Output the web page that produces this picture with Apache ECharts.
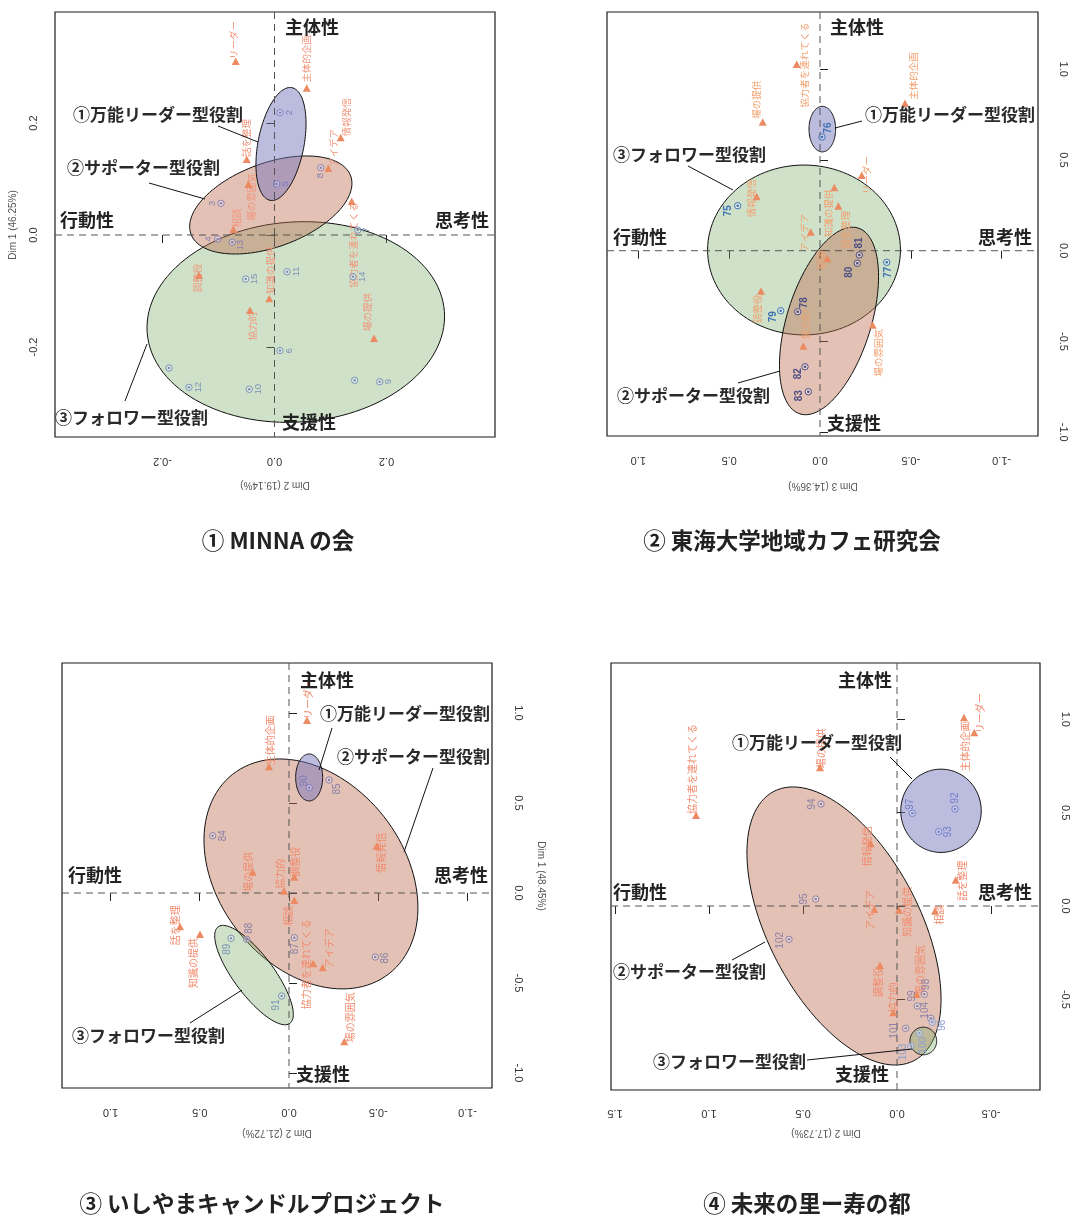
<!DOCTYPE html>
<html><head><meta charset="utf-8">
<script src="https://cdn.jsdelivr.net/npm/echarts@6/dist/echarts.min.js"></script>
<style>html,body{margin:0;padding:0;background:#fff}#c{width:1071px;height:1216px}</style>
</head><body><div id="c"></div>
<script>
// ---------------- DATA ----------------
// members: [label, x, y, cluster(1 leader / 2 supporter / 3 follower)]
const minnaMembers = [
  ['2', 0.0098, 0.2184, 1], ['5', 0.0039, 0.0911, 1],
  ['3', -0.0955, 0.0566, 2], ['4', -0.1014, -0.0071, 2], ['8', 0.0825, 0.1202, 2], ['13', -0.0754, -0.0130, 2],
  ['6', 0.0098, -0.2063, 3], ['7', 0.1486, 0.0089, 3], ['9', 0.1879, -0.2620, 3], ['10', -0.0450, -0.2755, 3],
  ['11', 0.0223, -0.0655, 3], ['12', -0.1527, -0.2720, 3], ['14', 0.1402, -0.0745, 3], ['15', -0.0514, -0.0786, 3],
  ['', -0.1884, -0.2375, 3], ['', 0.1432, -0.2595, 3]
];
const minnaAttrs = [
  ['リーダー', -0.0693, 0.3089], ['主体的企画', 0.0575, 0.2613], ['話を整理', -0.0496, 0.1339],
  ['場の雰囲気', -0.0468, 0.0893], ['相談', -0.0736, 0.0089], ['情報発信', 0.1182, 0.1727],
  ['アイデア', 0.0961, 0.1179], ['協力者を連れてくる', 0.1379, 0.0589], ['知識の提供', -0.0093, -0.1148],
  ['調整役', -0.1348, -0.0732], ['協力的', -0.0438, -0.1357], ['場の提供', 0.1777, -0.1857]
];
// ellipses: [role, cx, cy, a1x, a1y, a2x, a2y]
const minnaEllipses = [
  [2, 0.038, -0.1554, 0.2654, 0.0186, 0.0125, -0.1782],
  [1, -0.0066, 0.0536, 0.1426, 0.0519, 0.0257, -0.0705],
  [0, 0.0116, 0.1625, 0.0194, 0.1006, 0.0403, -0.0078]
];

const tokaiMembers = [
  ['75', 0.4532, 0.2479, 3], ['76', -0.0110, 0.6264, 1], ['77', -0.3673, -0.0639, 3],
  ['78', 0.1228, -0.3361, 2], ['79', 0.2164, -0.3306, 3], ['80', -0.2054, -0.0694, 2],
  ['81', -0.2164, -0.0237, 2], ['82', 0.0826, -0.6391, 2], ['83', 0.0644, -0.7769, 2]
];
const tokaiAttrs = [
  ['情報発信', 0.3486, 0.2942], ['場の提供', 0.3155, 0.7052], ['協力者を連れてくる', 0.1283, 1.0231],
  ['主体的企画', -0.4681, 0.8083], ['リーダー', -0.2296, 0.4116], ['知識の提供', -0.0787, 0.3438],
  ['話を整理', -0.1008, 0.2424], ['アイデア', 0.0512, 0.0992], ['相談', -0.0402, -0.0474],
  ['調整役', 0.3249, -0.2259], ['協力的', 0.0920, -0.5289], ['場の雰囲気', -0.2902, -0.4132]
];
const tokaiEllipses = [
  [2, 0.088, 0.004, 0.531, 0, 0, 0.468],
  [1, -0.0496, -0.387, -0.160, 0.512, -0.221, -0.069],
  [0, -0.0127, 0.670, 0, 0.1256, 0.0733, 0]
];

const ishiyamaMembers = [
  ['84', 0.4275, 0.3183, 2], ['85', -0.2241, 0.6278, 2], ['86', -0.4835, -0.3556, 2],
  ['87', -0.0297, -0.2483, 2], ['88', 0.2370, -0.2572, 2], ['89', 0.3249, -0.2517, 3],
  ['90', -0.1137, 0.5850, 1], ['91', 0.0409, -0.5722, 3]
];
const ishiyamaAttrs = [
  ['リーダー', -0.1008, 0.9556], ['主体的企画', 0.1120, 0.6983], ['場の提供', 0.2034, 0.1128],
  ['協力的', 0.0280, 0.0072], ['調整役', -0.0297, 0.0850], ['情報発信', -0.4913, 0.2572],
  ['相談', -0.0297, -0.0444], ['話を整理', 0.6106, -0.1906], ['知識の提供', 0.4986, -0.2333],
  ['協力者を連れてくる', -0.1361, -0.3961], ['アイデア', -0.1888, -0.4183], ['場の雰囲気', -0.3098, -0.8294]
];
const ishiyamaEllipses = [
  [1, -0.123, 0.106, -0.438, -0.554, 0.409, -0.318],
  [2, 0.196, -0.456, -0.201, -0.268, 0.090, -0.066],
  [0, -0.113, 0.642, 0, 0.1306, 0.0756, 0]
];

const kotobukiMembers = [
  ['92', -0.3085, 0.5195, 1], ['93', -0.2218, 0.3980, 1], ['97', -0.0814, 0.4965, 1],
  ['94', 0.4043, 0.5463, 2], ['95', 0.4324, 0.0375, 2], ['102', 0.5745, -0.1784, 2],
  ['98', -0.1452, -0.4730, 2], ['99', -0.1080, -0.5356, 2], ['104', -0.1793, -0.6015, 2],
  ['101', -0.0463, -0.6551, 2], ['96', -0.1878, -0.6229, 3], ['100', -0.1186, -0.6818, 3],
  ['103', -0.0729, -0.7499, 3]
];
const kotobukiAttrs = [
  ['リーダー', -0.4112, 0.9250], ['主体的企画', -0.3564, 1.0054], ['場の提供', 0.4096, 0.7375],
  ['協力者を連れてくる', 1.0691, 0.4821], ['情報発信', 0.1399, 0.3305], ['話を整理', -0.3122, 0.1355],
  ['アイデア', 0.1207, -0.0214], ['知識の提供', -0.0106, -0.0252], ['相談', -0.2021, -0.0305],
  ['調整役', 0.0904, -0.3214], ['協力的', 0.0197, -0.5747], ['場の雰囲気', -0.1048, -0.4767]
];
const kotobukiEllipses = [
  [1, 0.282, -0.107, -0.373, -0.721, 0.357, -0.187],
  [0, -0.234, 0.510, 0.214, 0, 0, 0.223],
  [2, -0.140, -0.723, 0.071, 0, 0, 0.074]
];

const ticks1X = [-0.2, 0, 0.2], ticks1Y = [-0.2, 0, 0.2];
const ticks2X = [-1, -0.5, 0, 0.5, 1], ticks2Y = [-1, -0.5, 0, 0.5, 1];
const ticks3X = [-1, -0.5, 0, 0.5, 1], ticks3Y = [-1, -0.5, 0, 0.5, 1];
const ticks4X = [-0.5, 0, 0.5, 1, 1.5], ticks4Y = [-0.5, 0, 0.5, 1];

const panelTitles = ['① MINNA の会', '② 東海大学地域カフェ研究会', '③ いしやまキャンドルプロジェクト', '④ 未来の里ー寿の都'];
const roleNames = ['①万能リーダー型役割', '②サポーター型役割', '③フォロワー型役割'];
const poleNames = ['主体性', '支援性', '行動性', '思考性'];
const axisTitles = [['Dim 2 (19.14%)', 'Dim 1 (46.25%)'], ['Dim 3 (14.36%)', ''], ['Dim 2 (21.72%)', 'Dim 1 (48.45%)'], ['Dim 2 (17.73%)', '']];

// ---------------- LAYOUT / STYLE ----------------
const JP = '"Noto Sans CJK JP","Noto Sans",sans-serif';
const LAT = '"Liberation Sans",Arial,sans-serif';
const ELL_FILL = ['rgba(112,112,188,0.47)', 'rgba(188,108,78,0.42)', 'rgba(122,172,102,0.36)'];
const TRI_COLOR = '#ec8a62';

const ptNudge = [
  { _d: [9, 0], '3': [-9, 0], '4': [-9, 0], '8': [0, 8], '13': [8, 3] },
  { _d: [-9, 4], '75': [-9, 5], '76': [6, -9], '77': [2, 10], '78': [7, -9], '79': [-7, 6], '80': [-8, 9], '81': [0, -12], '82': [-7, 7], '83': [-9, 4] },
  { _d: [9, 0], '90': [-5, -7], '85': [8, 9], '84': [11, 0], '88': [3, -11], '89': [-4, 11], '87': [1, 11], '86': [10, 1], '91': [-5, 9] },
  { _d: [9, 0], '97': [-2, -9], '92': [0, -11], '93': [10, 0], '94': [-9, 0], '95': [-11, 0], '102': [-9, 1], '98': [2, -10], '99': [-5, -10], '104': [-5, -8], '96': [10, 3], '101': [-11, 2], '100': [4, 12], '103': [-7, 6] }
];
const atNudge = [
  { 'リーダー': [-2, -22], '主体的企画': [0, -30], '話を整理': [0, -22], '場の雰囲気': [3, 12], '相談': [3, -12], '情報発信': [6, -21], 'アイデア': [5, -21], '協力者を連れてくる': [2, 43], '知識の提供': [1, -29], '調整役': [-2, 2], '協力的': [2, 15], '場の提供': [-7, -27] },
  { '情報発信': [-5, 1], '場の提供': [-6, -23], '協力者を連れてくる': [8, 0], '主体的企画': [8, -28], 'リーダー': [5, -1], '知識の提供': [-6, 25], '話を整理': [7, 23], 'アイデア': [-6, 0], '相談': [-6, 1], '調整役': [-4, 17], '協力的': [2, -22], '場の雰囲気': [6, 27] },
  { 'リーダー': [1, -22], '主体的企画': [1, -27], '場の提供': [-4, -1], '協力的': [-4, -18], '調整役': [1, -16], '情報発信': [5, 6], '相談': [-6, 15], '話を整理': [-5, -2], '知識の提供': [-7, 28], '協力者を連れてくる': [-7, 0], 'アイデア': [7, -20], '場の雰囲気': [6, -25] },
  { 'リーダー': [6, -20], '主体的企画': [1, 28], '場の提供': [1, -20], '協力者を連れてくる': [-4, -47], '情報発信': [-4, 2], '話を整理': [7, 0], 'アイデア': [-4, 0], '知識の提供': [8, 1], '相談': [4, 3], '調整役': [-2, 16], '協力的': [0, -16], '場の雰囲気': [3, -25] }
];
const ptColors = [
  ['#7c7cc0', '#8a7fb0', '#7a92ba'],
  ['#3f72b5', '#4d4d85', '#3f72b5'],
  ['#7c78b8', '#8880a8', '#7b92b5'],
  ['#6f7fc8', '#8a80a8', '#8aa0d0']
];
const ptFont = ['9.5px ' + LAT, 'bold 10px ' + LAT, '10px ' + LAT, '10px ' + LAT];
const atColor = ['#f2957a', '#f2a06e', '#f28a6c', '#f28a6c'];
const atFont = ['9.5px ' + JP, '9.5px ' + JP, '10px ' + JP, '10px ' + JP];

// ---------------- BUILDERS ----------------
const fmt = v => (Math.abs(v) < 1e-9 ? '0.0' : v.toFixed(1));

function xAx(gi, min, max, inverse, ticks, margin) {
  return {
    type: 'value', gridIndex: gi, min, max, inverse,
    axisLine: { show: false }, splitLine: { show: false },
    axisTick: { show: true, inside: false, length: 8, lineStyle: { color: '#222' }, customValues: ticks },
    axisLabel: { show: true, customValues: ticks, rotate: 180, margin, formatter: fmt, color: '#333', fontSize: 11, fontFamily: LAT }
  };
}
function yAx(gi, min, max, position, ticks, rotate, margin) {
  return {
    type: 'value', gridIndex: gi, min, max, position,
    axisLine: { show: false }, splitLine: { show: false },
    axisTick: { show: true, inside: false, length: 8, lineStyle: { color: '#222' }, customValues: ticks },
    axisLabel: { show: true, customValues: ticks, rotate, margin, formatter: fmt, color: '#333', fontSize: 11, fontFamily: LAT }
  };
}

function ellipseSeries(gi, ells) {
  return {
    type: 'custom', xAxisIndex: gi, yAxisIndex: gi, z: 2, silent: true, clip: true,
    data: ells,
    renderItem: (params, api) => {
      const e = ells[params.dataIndex];
      const pts = [];
      for (let k = 0; k < 120; k++) {
        const t = 2 * Math.PI * k / 120;
        pts.push(api.coord([e[1] + Math.cos(t) * e[3] + Math.sin(t) * e[5], e[2] + Math.cos(t) * e[4] + Math.sin(t) * e[6]]));
      }
      return { type: 'polygon', shape: { points: pts }, style: { fill: ELL_FILL[e[0]], stroke: '#111', lineWidth: 1 } };
    }
  };
}
function crossSeries(gi) {
  return {
    type: 'custom', xAxisIndex: gi, yAxisIndex: gi, z: 3, silent: true,
    data: [[0, 0]],
    renderItem: (params, api) => {
      const c = api.coord([0, 0]); const cs = params.coordSys;
      const st = { stroke: '#555', lineWidth: 1, lineDash: [7, 5] };
      return { type: 'group', children: [
        { type: 'line', shape: { x1: c[0], y1: cs.y, x2: c[0], y2: cs.y + cs.height }, style: st },
        { type: 'line', shape: { x1: cs.x, y1: c[1], x2: cs.x + cs.width, y2: c[1] }, style: st }
      ] };
    }
  };
}
function memberSeries(gi, pts) {
  return {
    type: 'custom', xAxisIndex: gi, yAxisIndex: gi, z: 6, silent: true,
    data: pts.map(p => [p[1], p[2], p[3]]),
    renderItem: (params, api) => {
      const p = pts[params.dataIndex];
      const c = api.coord([api.value(0), api.value(1)]);
      const col = ptColors[gi][p[3] - 1];
      const n = ptNudge[gi][p[0]] || ptNudge[gi]._d;
      const ch = [
        { type: 'circle', shape: { cx: c[0], cy: c[1], r: 3.2 }, style: { fill: 'rgba(255,255,255,0.35)', stroke: col, lineWidth: 1 } },
        { type: 'circle', shape: { cx: c[0], cy: c[1], r: 1.3 }, style: { fill: col } }
      ];
      if (p[0]) ch.push({ type: 'text', x: c[0] + n[0], y: c[1] + n[1], rotation: Math.PI / 2,
        style: { text: p[0], fill: col, font: ptFont[gi], align: 'center', verticalAlign: 'middle' } });
      return { type: 'group', children: ch };
    }
  };
}
function attrSeries(gi, ats) {
  return {
    type: 'custom', xAxisIndex: gi, yAxisIndex: gi, z: 5, silent: true,
    data: ats.map(a => [a[1], a[2]]),
    renderItem: (params, api) => {
      const a = ats[params.dataIndex];
      const c = api.coord([api.value(0), api.value(1)]);
      const n = atNudge[gi][a[0]] || [0, -20];
      return { type: 'group', children: [
        { type: 'text', x: c[0] + n[0], y: c[1] + n[1], rotation: Math.PI / 2,
          style: { text: a[0], fill: atColor[gi], font: atFont[gi], align: 'center', verticalAlign: 'middle' } },
        { type: 'polygon', shape: { points: [[c[0], c[1] - 4.5], [c[0] - 4, c[1] + 3], [c[0] + 4, c[1] + 3]] }, style: { fill: TRI_COLOR } }
      ] };
    }
  };
}

// ---------------- ANNOTATION LAYOUT (pixels) ----------------
const roleLayout = [
  [[73, 115, 218, 126, 258, 142], [67, 168, 149, 183, 205, 199], [55, 418, 125, 401, 147, 344]],
  [[865, 115, 835, 128, 862, 121], [617, 396, 738, 383, 780, 371], [613, 155, 688, 166, 733, 190]],
  [[320, 714, 332, 728, 319, 770], [337, 757, 433, 768, 404, 852], [72, 1036, 190, 1023, 242, 990]],
  [[732, 743, 890, 757, 912, 779], [613, 972, 732, 960, 765, 942], [653, 1062, 807, 1060, 912, 1049]]
];
const poleLayout = [
  [[285, 27], [282, 422], [60, 220], [435, 220]],
  [[830, 27], [827, 423], [613, 237], [978, 237]],
  [[300, 680], [296, 1074], [68, 875], [434, 875]],
  [[838, 680], [835, 1074], [613, 892], [978, 892]]
];
const titleLayout = [[278, 540], [792, 540], [262, 1203], [807, 1203]];
const axisTitleLayout = [[[275, 485], [13, 225, Math.PI / 2]], [[823, 486], null], [[277, 1133], [541, 876, -Math.PI / 2]], [[826, 1133], null]];

const graphics = [];
for (let g = 0; g < 4; g++) {
  roleLayout[g].forEach((r, i) => {
    graphics.push({ type: 'line', z: 20, shape: { x1: r[2], y1: r[3], x2: r[4], y2: r[5] }, style: { stroke: '#111', lineWidth: 1 } });
    graphics.push({ type: 'text', z: 21, x: r[0], y: r[1], style: { text: roleNames[i], font: 'bold 17px ' + JP, fill: '#2a2a2a', align: 'left', verticalAlign: 'middle' } });
  });
  poleLayout[g].forEach((p, i) => {
    graphics.push({ type: 'text', z: 21, x: p[0], y: p[1], style: { text: poleNames[i], font: 'bold 18px ' + JP, fill: '#222', align: 'left', verticalAlign: 'middle' } });
  });
  graphics.push({ type: 'text', z: 21, x: titleLayout[g][0], y: titleLayout[g][1], style: { text: panelTitles[g], font: 'bold 22.5px ' + JP, fill: '#222', align: 'center', verticalAlign: 'middle' } });
  const at = axisTitleLayout[g];
  graphics.push({ type: 'text', z: 21, x: at[0][0], y: at[0][1], rotation: Math.PI, style: { text: axisTitles[g][0], font: '10px ' + LAT, fill: '#555', align: 'center', verticalAlign: 'middle' } });
  if (at[1]) graphics.push({ type: 'text', z: 21, x: at[1][0], y: at[1][1], rotation: at[1][2], style: { text: axisTitles[g][1], font: '10px ' + LAT, fill: '#555', align: 'center', verticalAlign: 'middle' } });
}

const gridBase = { show: true, borderColor: '#1a1a1a', borderWidth: 1.2, backgroundColor: 'transparent', containLabel: false, outerBoundsMode: 'none' };
const option = {
  animation: false,
  grid: [
    Object.assign({ left: 55, top: 12, width: 440, height: 425 }, gridBase),
    Object.assign({ left: 607, top: 12, width: 431, height: 424 }, gridBase),
    Object.assign({ left: 62, top: 663, width: 430, height: 425 }, gridBase),
    Object.assign({ left: 611, top: 663, width: 429, height: 427 }, gridBase)
  ],
  xAxis: [
    xAx(0, -0.39196, 0.39375, false, ticks1X, 19),
    xAx(1, -1.2004, 1.1729, true, ticks2X, 19),
    xAx(2, -1.1373, 1.2717, true, ticks3X, 19),
    xAx(3, -0.7606, 1.5213, true, ticks4X, 18)
  ],
  yAxis: [
    yAx(0, -0.3607, 0.3982, 'left', ticks1Y, 90, 16),
    yAx(1, -1.0209, 1.3152, 'right', ticks2Y, -90, 20),
    yAx(2, -1.0833, 1.2778, 'right', ticks3Y, -90, 21),
    yAx(3, -0.9855, 1.3016, 'right', ticks4Y, -90, 20)
  ],
  series: [
    ellipseSeries(0, minnaEllipses), crossSeries(0), attrSeries(0, minnaAttrs), memberSeries(0, minnaMembers),
    ellipseSeries(1, tokaiEllipses), crossSeries(1), attrSeries(1, tokaiAttrs), memberSeries(1, tokaiMembers),
    ellipseSeries(2, ishiyamaEllipses), crossSeries(2), attrSeries(2, ishiyamaAttrs), memberSeries(2, ishiyamaMembers),
    ellipseSeries(3, kotobukiEllipses), crossSeries(3), attrSeries(3, kotobukiAttrs), memberSeries(3, kotobukiMembers)
  ],
  graphic: graphics
};
const chart = echarts.init(document.getElementById('c'), null, { renderer: 'canvas' });
chart.setOption(option);
</script></body></html>
